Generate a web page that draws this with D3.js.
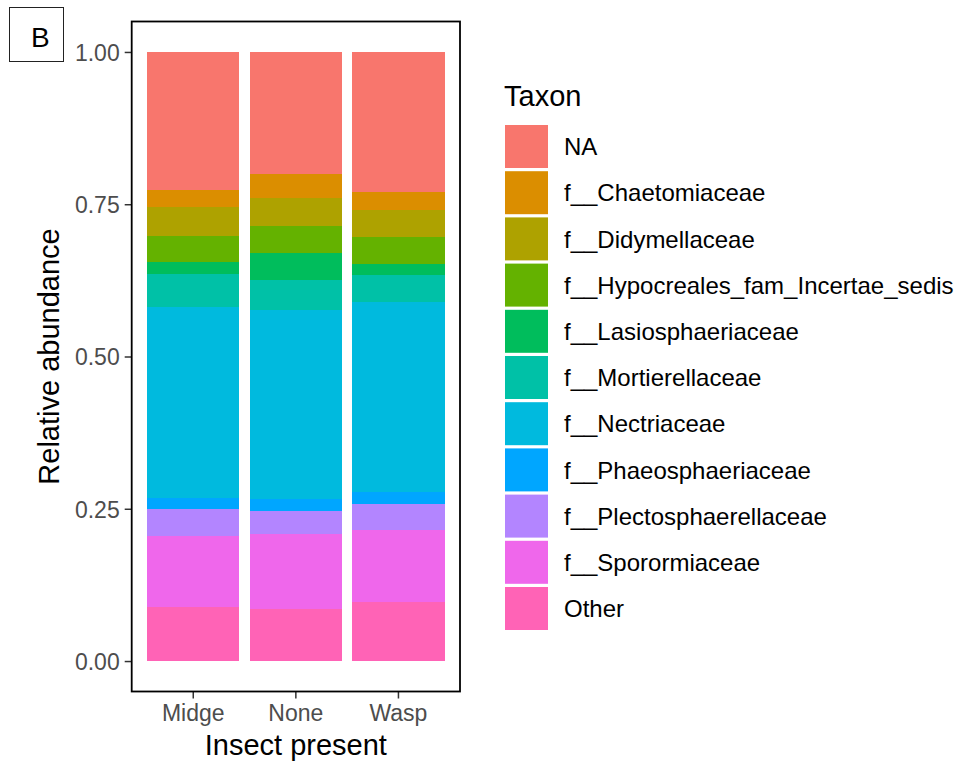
<!DOCTYPE html>
<html>
<head>
<meta charset="utf-8">
<script src="https://cdn.jsdelivr.net/npm/d3@7"></script>
<style>
  html, body { margin: 0; padding: 0; background: #fff; }
  svg { display: block; font-family: "Liberation Sans", Arial, Helvetica, sans-serif; }
</style>
</head>
<body>
<svg id="chart" width="958" height="765"></svg>
<script>
// Groups on the x axis
const groups = ["Midge", "None", "Wasp"];

// Taxa in legend order (first one is stacked on top)
const taxa = [
  "NA",
  "f__Chaetomiaceae",
  "f__Didymellaceae",
  "f__Hypocreales_fam_Incertae_sedis",
  "f__Lasiosphaeriaceae",
  "f__Mortierellaceae",
  "f__Nectriaceae",
  "f__Phaeosphaeriaceae",
  "f__Plectosphaerellaceae",
  "f__Sporormiaceae",
  "Other"
];

// Relative abundance of each taxon, same order as taxa
const midge = [0.227, 0.027, 0.048, 0.043, 0.019, 0.055, 0.313, 0.018, 0.044, 0.118, 0.088];
const none  = [0.200, 0.039, 0.047, 0.044, 0.044, 0.050, 0.310, 0.020, 0.037, 0.124, 0.085];
const wasp  = [0.230, 0.029, 0.045, 0.044, 0.018, 0.044, 0.312, 0.020, 0.043, 0.118, 0.097];

const yTicks = [0, 0.25, 0.5, 0.75, 1];
const taxonColors = ["#F8766D", "#DB8E00", "#AEA200", "#64B200", "#00BD5C", "#00C1A7",
                     "#00BADE", "#00A6FF", "#B385FF", "#EF67EB", "#FF63B6"];

const seriesByGroup = { Midge: midge, None: none, Wasp: wasp };
const rows = groups.map(g => {
  const r = { group: g };
  taxa.forEach((t, i) => { r[t] = seriesByGroup[g][i]; });
  return r;
});

const svg = d3.select("#chart");

// Panel geometry
const panel = { left: 131.7, right: 460, top: 21.5, bottom: 691.5 };

const x = d3.scaleBand()
  .domain(groups)
  .range([panel.left, panel.right])
  .paddingInner(0.1)
  .paddingOuter(0.15);

const y = d3.scaleLinear()
  .domain([-0.05, 1.05])
  .range([panel.bottom, panel.top]);

const color = d3.scaleOrdinal().domain(taxa).range(taxonColors);

// Stack bottom-up: "Other" at the base, "NA" at the top
const stack = d3.stack().keys(taxa.slice().reverse());
const layers = stack(rows);

const barG = svg.append("g").attr("shape-rendering", "crispEdges");
layers.forEach(layer => {
  barG.selectAll(null)
    .data(layer)
    .enter().append("rect")
    .attr("x", d => x(d.data.group))
    .attr("width", x.bandwidth())
    .attr("y", d => y(d[1]))
    .attr("height", d => y(d[0]) - y(d[1]))
    .attr("fill", color(layer.key));
});

// Axes
const yAxis = d3.axisLeft(y).tickValues(yTicks).tickFormat(d3.format(".2f")).tickSize(7).tickPadding(5);
const xAxis = d3.axisBottom(x).tickSize(7).tickPadding(5);

const gy = svg.append("g").attr("transform", `translate(${panel.left},0)`).call(yAxis);
const gx = svg.append("g").attr("transform", `translate(0,${panel.bottom})`).call(xAxis);
[gx, gy].forEach(g => {
  g.select(".domain").remove();
  g.selectAll(".tick line").attr("stroke", "#333333").attr("stroke-width", 1.5);
  g.selectAll(".tick text")
    .attr("fill", "#4D4D4D")
    .style("font-size", "23px")
    .style("font-family", "'Liberation Sans', Arial, Helvetica, sans-serif");
});
gy.selectAll(".tick text").attr("dy", "0.36em");
gx.selectAll(".tick text").attr("dy", "0.76em");

// Panel border
svg.append("rect")
  .attr("x", panel.left)
  .attr("y", panel.top)
  .attr("width", panel.right - panel.left)
  .attr("height", panel.bottom - panel.top)
  .attr("fill", "none")
  .attr("stroke", "#000")
  .attr("stroke-width", 1.8);

// Axis titles
svg.append("text")
  .attr("x", (panel.left + panel.right) / 2)
  .attr("y", 755)
  .attr("text-anchor", "middle")
  .style("font-size", "29px")
  .attr("fill", "#000")
  .text("Insect present");

svg.append("text")
  .attr("transform", `translate(58.5,${(panel.top + panel.bottom) / 2}) rotate(-90)`)
  .attr("text-anchor", "middle")
  .style("font-size", "29px")
  .attr("fill", "#000")
  .text("Relative abundance");

// Panel tag
svg.append("rect")
  .attr("x", 9.5).attr("y", 7.5)
  .attr("width", 54).attr("height", 54)
  .attr("fill", "#fff")
  .attr("stroke", "#222")
  .attr("stroke-width", 1);
svg.append("text")
  .attr("x", 31)
  .attr("y", 47.3)
  .style("font-size", "28px")
  .attr("fill", "#000")
  .text("B");

// Legend
const legend = svg.append("g").attr("transform", "translate(504,0)");
legend.append("text")
  .attr("x", 0)
  .attr("y", 106)
  .style("font-size", "29px")
  .attr("fill", "#000")
  .text("Taxon");

const keyTop = 125, keyStep = 46.2, keySize = 43;
const items = legend.selectAll("g.item")
  .data(taxa)
  .enter().append("g")
  .attr("class", "item")
  .attr("transform", (d, i) => `translate(1,${keyTop + i * keyStep})`);
items.append("rect")
  .attr("width", keySize)
  .attr("height", keySize)
  .attr("fill", d => color(d));
items.append("text")
  .attr("x", 59)
  .attr("y", keySize / 2)
  .attr("dy", "0.36em")
  .style("font-size", "24px")
  .attr("fill", "#000")
  .text(d => d);
</script>
</body>
</html>
